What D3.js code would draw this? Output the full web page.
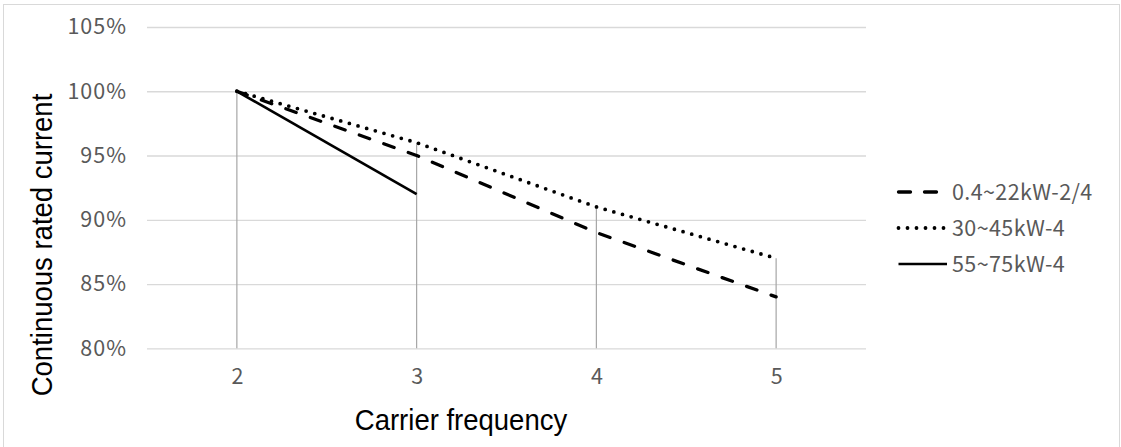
<!DOCTYPE html>
<html>
<head>
<meta charset="utf-8">
<script src="https://cdn.jsdelivr.net/npm/d3@7"></script>
<style>
  body { margin: 0; background: #fff; }
</style>
</head>
<body>
<script>
// chart values
const categories = ["2", "3", "4", "5"];
const seriesNames = ["0.4~22kW-2/4", "30~45kW-4", "55~75kW-4"];
const dashedValues = [1.00, 0.95, 0.89, 0.84];
const dottedValues = [1.00, 0.96, 0.91, 0.87];
const solidValues = [1.00, 0.92];
const yTicks = [0.80, 0.85, 0.90, 0.95, 1.00, 1.05];

const W = 1121, H = 447;
const plot = { left: 147, right: 866, top: 27, bottom: 348.3 };
const numFont = "'Noto Sans CJK KR', 'Noto Sans', sans-serif";
const titleFont = "'Liberation Sans', Arial, sans-serif";
const grey = "#595959";

let svg = d3.select("body")
    .append("svg")
    .attr("width", W)
    .attr("height", H);

// chart area border
svg.append("rect")
    .attr("x", 3.5).attr("y", 4.5)
    .attr("width", 1116).attr("height", 460)
    .attr("fill", "#fff")
    .attr("stroke", "#d9d9d9");

let x = d3.scalePoint()
    .domain(categories)
    .range([plot.left, plot.right])
    .padding(0.5);

let y = d3.scaleLinear()
    .domain([0.80, 1.05])
    .range([plot.bottom, plot.top]);

// gridlines + y labels
let yAxis = d3.axisLeft(y)
    .tickValues(yTicks)
    .tickSize(-(plot.right - plot.left))
    .tickPadding(20)
    .tickFormat(d3.format(".0%"));
let gy = svg.append("g")
    .attr("transform", `translate(${plot.left},0)`)
    .call(yAxis);
gy.select(".domain").remove();
gy.selectAll(".tick line").attr("stroke", "#d9d9d9").attr("stroke-width", 1.3);
gy.selectAll(".tick text")
    .attr("fill", grey)
    .attr("font-family", numFont)
    .attr("font-size", 21.5)
    .attr("letter-spacing", 1)
    .attr("x", -20);

// x labels
let xAxis = d3.axisBottom(x).tickSize(0).tickPadding(20);
let gx = svg.append("g")
    .attr("transform", `translate(0,${plot.bottom})`)
    .call(xAxis);
gx.select(".domain").remove();
gx.selectAll(".tick text")
    .attr("fill", grey)
    .attr("font-family", numFont)
    .attr("font-size", 21.5);

// drop lines from highest point to axis
let allSeries = [dashedValues, dottedValues, solidValues];
let tops = categories.map((c, i) => d3.max(allSeries, s => s[i]));
svg.append("g")
    .selectAll("line")
    .data(categories)
    .join("line")
    .attr("x1", d => x(d)).attr("x2", d => x(d))
    .attr("y1", (d, i) => y(tops[i]))
    .attr("y2", plot.bottom)
    .attr("stroke", "#a6a6a6")
    .attr("stroke-width", 1.2);

// series
let styles = [
    { dash: "11,15", width: 3.3, cap: "round" },
    { dash: "0,9", width: 3.8, cap: "round" },
    { dash: null, width: 2.7, cap: "butt" }
];
let line = d3.line()
    .x((d, i) => x(categories[i]))
    .y(d => y(d));

svg.append("g")
    .selectAll("path")
    .data(allSeries)
    .join("path")
    .attr("d", d => line(d))
    .attr("fill", "none")
    .attr("stroke", "#000")
    .attr("stroke-width", (d, i) => styles[i].width)
    .attr("stroke-dasharray", (d, i) => styles[i].dash)
    .attr("stroke-linecap", (d, i) => styles[i].cap)
    .attr("stroke-linejoin", "round");

// legend
let legend = svg.append("g").attr("transform", "translate(897,192)");
let rows = legend.selectAll("g")
    .data(seriesNames)
    .join("g")
    .attr("transform", (d, i) => `translate(0,${i * 36})`);
rows.append("line")
    .attr("x1", 1.5)
    .attr("x2", (d, i) => i == 0 ? 41 : 50)
    .attr("y1", 0).attr("y2", 0)
    .attr("stroke", "#000")
    .attr("stroke-width", (d, i) => styles[i].width)
    .attr("stroke-dasharray", (d, i) => i == 0 ? "12,14" : styles[i].dash)
    .attr("stroke-linecap", (d, i) => styles[i].cap);
rows.append("text")
    .attr("x", 55)
    .attr("y", 0)
    .attr("dy", "0.35em")
    .attr("fill", grey)
    .attr("font-family", numFont)
    .attr("font-size", 21.5)
    .attr("letter-spacing", 0.4)
    .text(d => d);

// axis titles
svg.append("text")
    .attr("transform", "translate(52,245) rotate(-90) scale(1,1.08)")
    .attr("text-anchor", "middle")
    .attr("font-family", titleFont)
    .attr("font-size", 27.5)
    .attr("fill", "#000")
    .text("Continuous rated current");

svg.append("text")
    .attr("transform", "translate(461,430) scale(1,1.08)")
    .attr("text-anchor", "middle")
    .attr("font-family", titleFont)
    .attr("font-size", 27.5)
    .attr("fill", "#000")
    .text("Carrier frequency");
</script>
</body>
</html>
